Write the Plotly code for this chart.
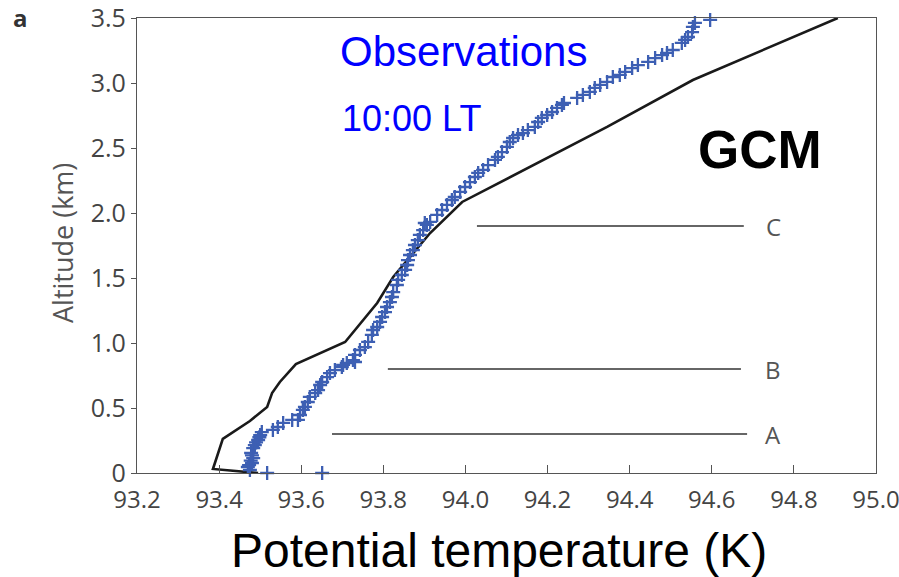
import plotly.graph_objects as go

# ---- Observations (10:00 LT): potential temperature (K) vs altitude (km)
obs_theta = [
    93.651, 93.517, 93.475, 93.470, 93.473, 93.480, 93.477, 93.483, 93.480, 93.478,
    93.483, 93.487, 93.490, 93.495, 93.498, 93.500, 93.504, 93.531, 93.543, 93.556,
    93.578, 93.592, 93.597, 93.604, 93.609, 93.616, 93.621, 93.634, 93.641, 93.646,
    93.651, 93.663, 93.670, 93.682, 93.699, 93.711, 93.731,
    93.702, 93.726, 93.731, 93.743, 93.755, 93.763, 93.772, 93.775, 93.785, 93.792,
    93.797, 93.804, 93.809, 93.816, 93.821, 93.824, 93.833, 93.836, 93.845, 93.853,
    93.858, 93.860, 93.865, 93.872, 93.877, 93.884, 93.889, 93.897, 93.906, 93.914,
    93.901, 93.931, 93.943, 93.955, 93.967, 93.974, 93.987, 93.999, 94.011, 94.023,
    94.031, 94.043, 94.055, 94.072, 94.079, 94.089, 94.101, 94.108, 94.116, 94.128,
    94.140, 94.152, 94.169, 94.177, 94.186, 94.199, 94.211, 94.223, 94.235, 94.240,
    94.272, 94.286, 94.303, 94.315, 94.328, 94.345, 94.359, 94.376, 94.389, 94.406,
    94.420, 94.445, 94.462, 94.479, 94.491, 94.505, 94.527, 94.535, 94.542, 94.552,
    94.554, 94.559, 94.596,
]
obs_alt = [
    0.000, 0.000, 0.023, 0.046, 0.060, 0.077, 0.095, 0.115, 0.135, 0.154,
    0.192, 0.215, 0.235, 0.254, 0.275, 0.292, 0.315, 0.331, 0.354, 0.385,
    0.408, 0.408, 0.446, 0.485, 0.508, 0.546, 0.585, 0.615, 0.638, 0.677,
    0.700, 0.738, 0.769, 0.792, 0.815, 0.846, 0.854,
    0.831, 0.869, 0.908, 0.946, 0.969, 1.008, 1.062, 1.100, 1.123, 1.162,
    1.200, 1.238, 1.277, 1.315, 1.354, 1.392, 1.446, 1.485, 1.523, 1.562,
    1.600, 1.638, 1.677, 1.715, 1.754, 1.792, 1.831, 1.869, 1.908, 1.931,
    1.923, 1.985, 2.023, 2.062, 2.100, 2.123, 2.162, 2.200, 2.238, 2.277,
    2.308, 2.331, 2.369, 2.408, 2.431, 2.469, 2.508, 2.546, 2.577, 2.600,
    2.615, 2.638, 2.662, 2.700, 2.731, 2.754, 2.777, 2.808, 2.831, 2.846,
    2.885, 2.908, 2.931, 2.962, 2.985, 3.008, 3.046, 3.062, 3.085, 3.115,
    3.138, 3.162, 3.192, 3.215, 3.231, 3.254, 3.308, 3.331, 3.354, 3.392,
    3.431, 3.462, 3.485,
]

# ---- GCM profile
gcm_theta = [93.495, 93.385, 93.409, 93.475, 93.517, 93.529, 93.548, 93.587, 93.707,
             93.785, 93.824, 93.872, 93.914, 93.992, 94.345, 94.554, 94.907]
gcm_alt = [0.000, 0.031, 0.262, 0.400, 0.508, 0.615, 0.700, 0.838, 1.008,
           1.308, 1.508, 1.692, 1.846, 2.085, 2.662, 3.023, 3.500]

# ---- Reference levels A, B, C
level_names = ["A", "B", "C"]
level_alt = [0.30, 0.80, 1.90]
level_start = [93.675, 93.811, 94.028]
level_end = [94.686, 94.671, 94.678]
level_label_theta = 94.75

# ---- Axis ticks
x_ticks = [93.2, 93.4, 93.6, 93.8, 94.0, 94.2, 94.4, 94.6, 94.8, 95.0]
x_tick_labels = ["93.2", "93.4", "93.6", "93.8", "94.0", "94.2", "94.4", "94.6", "94.8", "95.0"]
y_ticks = [0, 0.5, 1.0, 1.5, 2.0, 2.5, 3.0, 3.5]
y_tick_labels = ["0", "0.5", "1.0", "1.5", "2.0", "2.5", "3.0", "3.5"]

fig = go.Figure()

for name, z, x0, x1 in zip(level_names, level_alt, level_start, level_end):
    fig.add_trace(go.Scatter(x=[x0, x1], y=[z, z], mode="lines",
                             line=dict(color="#333333", width=1.3),
                             showlegend=False, hoverinfo="skip"))
    fig.add_annotation(x=level_label_theta, y=z, text=name, showarrow=False,
                       font=dict(family="Open Sans", size=24, color="#555555"),
                       xanchor="center", yanchor="middle")

fig.add_trace(go.Scatter(x=gcm_theta, y=gcm_alt, mode="lines",
                         line=dict(color="#1a1a1a", width=2.6),
                         showlegend=False, cliponaxis=True))

fig.add_trace(go.Scatter(x=obs_theta, y=obs_alt, mode="markers",
                         marker=dict(symbol="cross-thin", size=10,
                                     line=dict(color="#3d5fb3", width=2.3)),
                         showlegend=False, cliponaxis=False))

fig.update_xaxes(range=[93.2, 95.0], tickvals=x_ticks, ticktext=x_tick_labels,
                 ticks="inside", ticklen=8, tickcolor="#555555", tickwidth=1,
                 showline=True, mirror=True, linecolor="#555555", linewidth=1.2,
                 showgrid=False, zeroline=False, ticklabelstandoff=5, automargin=False,
                 ticklabeloverflow="allow",
                 tickfont=dict(family="Open Sans", size=24, color="#444444"))
fig.update_yaxes(range=[0, 3.5], tickvals=y_ticks, ticktext=y_tick_labels,
                 ticks="outside", ticklen=5, tickcolor="#555555", tickwidth=1,
                 showline=True, mirror=True, linecolor="#555555", linewidth=1.2,
                 showgrid=False, zeroline=False, automargin=False,
                 ticklabeloverflow="allow",
                 tickfont=dict(family="Open Sans", size=25, color="#444444"))

# text labels
fig.add_annotation(xref="paper", yref="paper", x=(463 - 137) / 739, y=(473 - 52) / 455,
                   text="Observations", showarrow=False, xanchor="center", yanchor="middle",
                   font=dict(family="Liberation Sans", size=42, color="#0000ff"))
fig.add_annotation(xref="paper", yref="paper", x=(411 - 137) / 739, y=(473 - 118) / 455,
                   text="10:00 LT", showarrow=False, xanchor="center", yanchor="middle",
                   font=dict(family="Liberation Sans", size=36, color="#0000ff"))
fig.add_annotation(xref="paper", yref="paper", x=(760 - 137) / 739, y=(473 - 150) / 455,
                   text="<b>GCM</b>", showarrow=False, xanchor="center", yanchor="middle",
                   font=dict(family="Liberation Sans", size=53, color="#000000"))
fig.add_annotation(xref="paper", yref="paper", x=(499 - 137) / 739, y=(473 - 550) / 455,
                   text="Potential temperature (K)", showarrow=False,
                   xanchor="center", yanchor="middle",
                   font=dict(family="Liberation Sans", size=48, color="#000000"))
fig.add_annotation(xref="paper", yref="paper", x=(62 - 137) / 739, y=(473 - 243) / 455,
                   text="Altitude (km)", showarrow=False, textangle=-90,
                   xanchor="center", yanchor="middle",
                   font=dict(family="Open Sans", size=27, color="#555555"))
fig.add_annotation(xref="paper", yref="paper", x=(20 - 137) / 739, y=(473 - 17) / 455,
                   text="<b>a</b>", showarrow=False, xanchor="center", yanchor="middle",
                   font=dict(family="Open Sans", size=24, color="#333333"))

fig.update_layout(width=899, height=577,
                  margin=dict(l=137, r=23, t=18, b=104),
                  paper_bgcolor="white", plot_bgcolor="white")

fig.write_html("out.html")
